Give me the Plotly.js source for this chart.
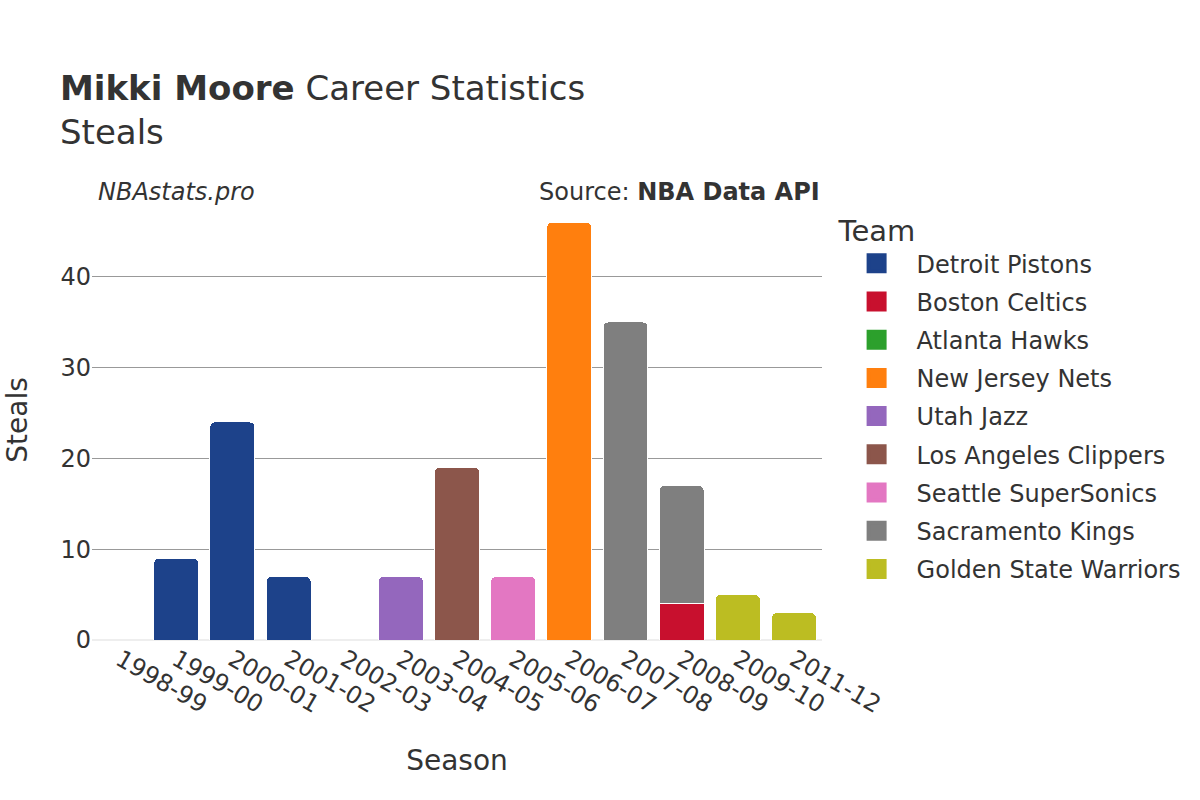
<!DOCTYPE html>
<html>
<head>
<meta charset="utf-8">
<script src="https://cdn.plot.ly/plotly-3.0.1.min.js"></script>
<style>body{margin:0;padding:0;background:#fff;}</style>
</head>
<body>
<div id="chart" style="width:1200px;height:800px;"></div>
<script>
const seasons = ["1998-99","1999-00","2000-01","2001-02","2002-03","2003-04","2004-05","2005-06","2006-07","2007-08","2008-09","2009-10","2011-12"];
const teams = ["Detroit Pistons","Boston Celtics","Atlanta Hawks","New Jersey Nets","Utah Jazz","Los Angeles Clippers","Seattle SuperSonics","Sacramento Kings","Golden State Warriors"];
const teamColors = ["#1d428a","#c8102e","#2ca02c","#ff7f0e","#9467bd","#8c564b","#e377c2","#7f7f7f","#bcbd22"];
// steals per team per season (null = did not play for team that season)
const detroitPistons      = [0, 9, 24, 7, null, null, null, null, null, null, null, null, null];
const bostonCeltics       = [null, null, null, null, null, null, null, null, null, null, 4, null, null];
const atlantaHawks        = [null, null, null, null, 0, null, null, null, null, null, null, null, null];
const newJerseyNets       = [null, null, null, null, null, null, null, null, 46, null, null, null, null];
const utahJazz            = [null, null, null, null, null, 7, null, null, null, null, null, null, null];
const losAngelesClippers  = [null, null, null, null, null, null, 19, null, null, null, null, null, null];
const seattleSuperSonics  = [null, null, null, null, null, null, null, 7, null, null, null, null, null];
const sacramentoKings     = [null, null, null, null, null, null, null, null, null, 35, 13, null, null];
const goldenStateWarriors = [null, null, null, null, null, null, null, null, null, null, null, 5, 3];
const teamValues = [detroitPistons, bostonCeltics, atlantaHawks, newJerseyNets, utahJazz, losAngelesClippers, seattleSuperSonics, sacramentoKings, goldenStateWarriors];

const FONT = "DejaVu Sans, sans-serif";
const barTraces = teams.map((t, i) => ({
  type: "bar",
  name: t,
  legendgroup: t,
  showlegend: false,
  x: seasons,
  y: teamValues[i],
  marker: {color: teamColors[i], line: {color: "#ffffff", width: 1}},
  hovertemplate: "%{x}: %{y}<extra>" + t + "</extra>"
}));
// legend-only entries with larger square swatches
const legendTraces = teams.map((t, i) => ({
  type: "scatter",
  mode: "markers",
  name: t,
  legendgroup: t,
  x: [null],
  y: [null],
  marker: {symbol: "square", size: 16, color: teamColors[i], line: {color: teamColors[i], width: 4}},
  hoverinfo: "skip"
}));

const layout = {
  width: 1200, height: 800,
  barmode: "stack",
  bargap: 0.2,
  barcornerradius: 5,
  margin: {l: 92, r: 378, t: 200, b: 160},
  paper_bgcolor: "#ffffff",
  plot_bgcolor: "#ffffff",
  font: {family: FONT, color: "#333333", size: 18},
  title: {
    text: "<b>Mikki Moore</b> Career Statistics<br>Steals",
    x: 0.05, xanchor: "left", xref: "container",
    y: 0.875, yanchor: "top", yref: "container",
    font: {size: 34, family: FONT, color: "#333333"}
  },
  xaxis: {
    title: {text: "Season", font: {size: 28}, standoff: 32},
    tickangle: 30,
    tickfont: {size: 24},
    showgrid: false,
    type: "category"
  },
  yaxis: {
    title: {text: "Steals", font: {size: 28}, standoff: 24},
    tickfont: {size: 24},
    showgrid: true,
    gridcolor: "#999999",
    gridwidth: 1,
    zeroline: true,
    zerolinecolor: "#eeeeee",
    zerolinewidth: 2,
    ticks: "",
    dtick: 10
  },
  legend: {
    title: {text: "Team", font: {size: 29}},
    traceorder: "grouped",
    x: 1.02, xanchor: "left", y: 0.992, yanchor: "top",
    font: {size: 24},
    tracegroupgap: 4,
    itemwidth: 70
  },
  annotations: [
    {text: "<i>NBAstats.pro</i>", xref: "paper", yref: "paper", x: 0.005, xanchor: "left", y: 1.018, yanchor: "middle", showarrow: false, font: {size: 24}},
    {text: "Source: <b>NBA Data API</b>", xref: "paper", yref: "paper", x: 1, xanchor: "right", y: 1.018, yanchor: "middle", showarrow: false, font: {size: 24}}
  ]
};

Plotly.newPlot("chart", barTraces.concat(legendTraces), layout, {displayModeBar: false});
</script>
</body>
</html>
